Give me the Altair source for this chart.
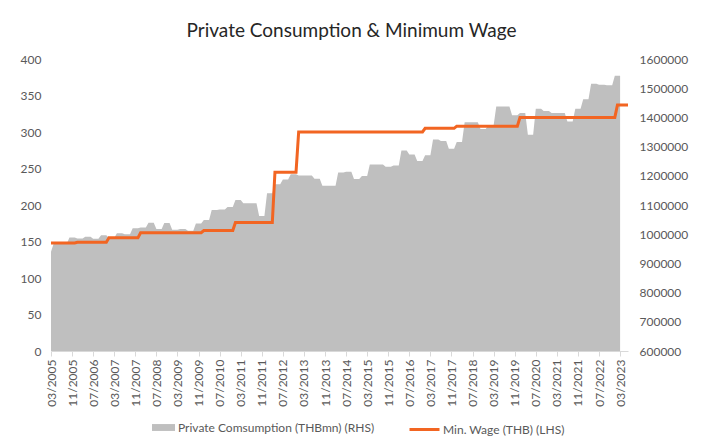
import altair as alt
import pandas as pd

# Private consumption, THB mn, quarterly (2005Q1 .. 2023Q1), shown repeated per month
consumption_q = [940000, 967000, 967000, 989000, 985000, 991000, 984000, 996000, 987000, 1003000,
                 1000000, 1020000, 1023000, 1039000, 1018000, 1038000, 1015000, 1018000, 1012000, 1037000,
                 1049000, 1083000, 1085000, 1093000, 1117000, 1106000, 1106000, 1062000, 1140000, 1171000,
                 1187000, 1205000, 1201000, 1201000, 1190000, 1166000, 1166000, 1211000, 1214000, 1189000,
                 1199000, 1239000, 1239000, 1231000, 1235000, 1287000, 1273000, 1251000, 1270000, 1324000,
                 1319000, 1293000, 1316000, 1383000, 1383000, 1360000, 1373000, 1437000, 1437000, 1407000,
                 1415000, 1341000, 1430000, 1422000, 1415000, 1415000, 1386000, 1430000, 1462000, 1515000,
                 1512000, 1510000, 1543000]

# Minimum wage (THB) and the month each level starts
wage_change_month = ["03/2005", "01/2006", "01/2007", "01/2008", "01/2010", "01/2011",
                     "04/2012", "01/2013", "01/2017", "01/2018", "01/2020", "02/2023"]
wage_value = [148, 149, 155, 162, 165, 176, 245, 300, 305, 308, 320, 337]

# Category axis: months 03/2005 .. 06/2023
month_labels = []
for i in range(220):
    mm = (i + 2) % 12 + 1
    yy = 2005 + (i + 2) // 12
    month_labels.append(f"{mm:02d}/{yy}")
tick_labels = month_labels[::8]

SERIES_C = "Private Comsumption (THBmn) (RHS)"
SERIES_W = "Min. Wage (THB) (LHS)"

rows = []
current_wage = wage_value[0]
for i, lab in enumerate(month_labels):
    if lab in wage_change_month:
        current_wage = wage_value[wage_change_month.index(lab)]
    q = (i + 2) // 3
    cons = consumption_q[q] if q < len(consumption_q) and i <= 216 else None
    rows.append({"month": lab, "idx": i, "cons": cons, "wage": current_wage,
                 "sc": SERIES_C, "sw": SERIES_W})
df = pd.DataFrame(rows)
df_area = df[df["cons"].notna()]

FONT = "Lato"
LABEL_COLOR = "#595959"
FS = 12

x_enc = alt.X("month:O",
              scale=alt.Scale(type="point", domain=month_labels, padding=0),
              axis=alt.Axis(values=tick_labels, labelAngle=-90, title=None,
                            domainColor="#d9d9d9", tickColor="#d9d9d9", tickSize=5,
                            labelColor=LABEL_COLOR, labelFontSize=FS, labelFont=FONT,
                            labelPadding=3, grid=False))

area = alt.Chart(df_area).mark_area(color="#bfbfbf", interpolate="linear", opacity=1).encode(
    x=x_enc,
    y=alt.Y("cons:Q",
            scale=alt.Scale(domain=[600000, 1600000], zero=False),
            axis=alt.Axis(orient="right", values=list(range(600000, 1600001, 100000)), format="d",
                          domain=False, ticks=False, grid=False, title=None,
                          labelColor=LABEL_COLOR, labelFontSize=FS, labelFont=FONT, labelPadding=11)),
    y2=alt.datum(600000),
    fill=alt.Fill("sc:N", scale=alt.Scale(domain=[SERIES_C], range=["#bfbfbf"]),
                  legend=alt.Legend(orient="none", legendX=101, legendY=357, title=None,
                                    symbolType="M-1,-0.3H1V0.3H-1Z",
                                    symbolSize=529, symbolStrokeWidth=0, symbolOpacity=1,
                                    labelColor=LABEL_COLOR, labelFontSize=FS, labelFont=FONT,
                                    labelLimit=400, labelOffset=3)),
)

line = alt.Chart(df).mark_line(color="#f26522", strokeWidth=3, interpolate="linear").encode(
    x=x_enc,
    y=alt.Y("wage:Q",
            scale=alt.Scale(domain=[0, 400]),
            axis=alt.Axis(orient="left", values=list(range(0, 401, 50)),
                          domain=False, ticks=False, grid=False, title=None,
                          labelColor=LABEL_COLOR, labelFontSize=FS, labelFont=FONT, labelPadding=10)),
    stroke=alt.Stroke("sw:N", scale=alt.Scale(domain=[SERIES_W], range=["#f26522"]),
                      legend=alt.Legend(orient="none", legendX=357, legendY=354, title=None,
                                        symbolType="stroke",
                                        symbolSize=900, symbolStrokeWidth=3,
                                        labelColor=LABEL_COLOR, labelFontSize=FS, labelFont=FONT,
                                        labelLimit=400, labelOffset=2)),
)

chart = alt.layer(area, line).resolve_scale(y="independent").properties(
    width=577, height=292,
    title=alt.TitleParams("Private Consumption & Minimum Wage", font=FONT, fontSize=19,
                          fontWeight="normal", color="#262626", anchor="middle", dx=12, offset=12),
    autosize=alt.AutoSizeParams(type="none"),
    padding={"left": 43, "top": 51, "right": 64, "bottom": 92},
    background="white",
).configure_view(stroke=None)

chart.save("out.html", embed_options={"renderer": "svg", "actions": False})
